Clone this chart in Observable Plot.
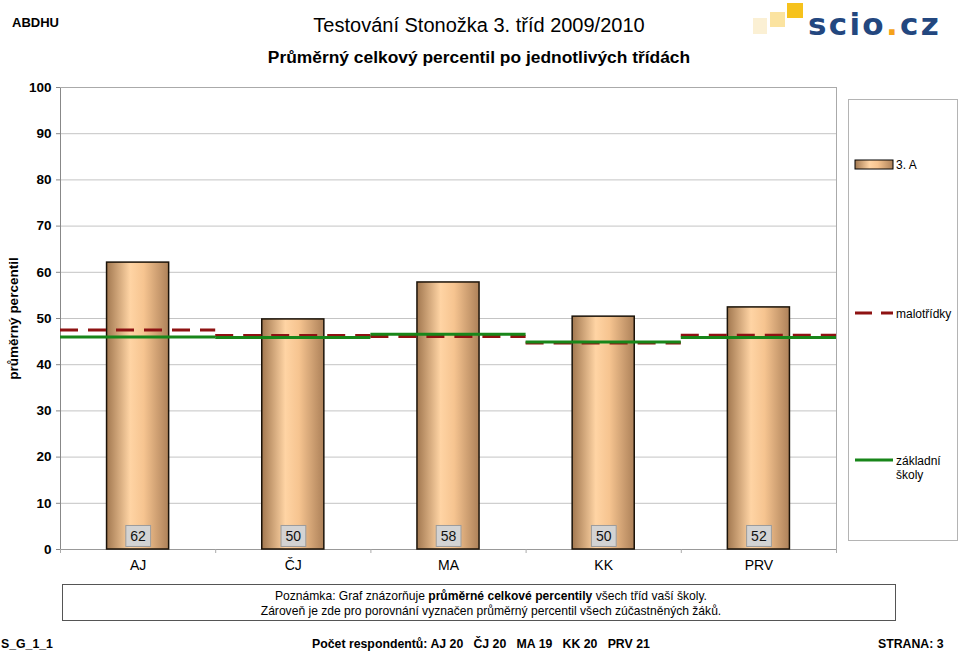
<!DOCTYPE html>
<html><head><meta charset="utf-8">
<script src="https://cdn.jsdelivr.net/npm/d3@7"></script>
<script src="https://cdn.jsdelivr.net/npm/@observablehq/plot@0.6"></script>
<style>
body{margin:0;background:#fff;font-family:"Liberation Sans",Arial,sans-serif;}
#page{position:relative;width:960px;height:651px;overflow:hidden;background:#fff;}
.abs{position:absolute;white-space:nowrap;color:#000;}
#chart{position:absolute;left:0;top:0;}
#chart svg [aria-label="y-axis label"] text{font-weight:bold;}
</style></head><body><div id="page">
<div class="abs" style="left:12px;top:15px;font-size:13px;font-weight:bold;">ABDHU</div>
<div class="abs" style="left:0;width:958px;top:14px;text-align:center;font-size:20px;">Testování Stonožka 3. tříd 2009/2010</div>
<div class="abs" style="left:0;width:958px;top:47px;text-align:center;font-size:17.4px;font-weight:bold;">Průměrný celkový percentil po jednotlivých třídách</div>
<svg class="abs" style="left:750px;top:0;" width="208" height="56">
  <rect x="3" y="18" width="14" height="16" fill="#fbf0d4"/>
  <rect x="20" y="12" width="15" height="15" fill="#fbe3a0"/>
  <rect x="37" y="3" width="16" height="15" fill="#f6c21c"/>
  <text x="58" y="35" font-family="DejaVu Sans, sans-serif" font-weight="bold" font-size="31" fill="#23477f" letter-spacing="2.3">scio<tspan fill="#f5a21b">.</tspan>cz</text>
</svg>
<div id="chart"></div>
<svg id="legend" class="abs" style="left:847px;top:98px;" width="112" height="444">
  <rect x="1.5" y="1.5" width="109" height="441" fill="#fff" stroke="#b4b4b4"/>
</svg>
<div class="abs" style="left:62px;top:584px;width:808px;border:1px solid #555;text-align:center;font-size:12.1px;line-height:14.5px;padding:4px 0 0 24px;height:31px;">
Poznámka: Graf znázorňuje <b>průměrné celkové percentily</b> všech tříd vaší školy.<br>Zároveň je zde pro porovnání vyznačen průměrný percentil všech zúčastněných žáků.</div>
<div class="abs" style="left:1px;top:637px;font-size:12.3px;font-weight:bold;">S_G_1_1</div>
<div id="resp" class="abs" style="left:312px;top:637px;font-size:12.3px;font-weight:bold;"></div>
<div class="abs" style="left:878px;top:637px;font-size:12.3px;font-weight:bold;">STRANA: 3</div>
</div>
<script>
const subjects = ["AJ", "ČJ", "MA", "KK", "PRV"];
const classValues = [62.1, 49.8, 57.8, 50.4, 52.4];
const classLabels = [62, 50, 58, 50, 52];
const smallSchools = [47.5, 46.3, 46.1, 44.7, 46.4];
const primarySchools = [46.0, 45.9, 46.6, 44.9, 45.9];
const respondents = [20, 20, 19, 20, 21];
const yTicks = [0, 10, 20, 30, 40, 50, 60, 70, 80, 90, 100];
const seriesNames = ["3. A", "malotřídky", "základní školy"];

const rows = subjects.map((s, i) => ({i, s, v: classValues[i], lab: classLabels[i], m: smallSchools[i], z: primarySchools[i]}));

const chart = Plot.plot({
  width: 960, height: 580,
  marginTop: 87, marginBottom: 31, marginLeft: 60, marginRight: 124,
  style: {fontFamily: "Liberation Sans, Arial, sans-serif", fontSize: "13px", background: "transparent", color: "#000"},
  x: {domain: [0, subjects.length], axis: null},
  y: {domain: [0, 100], axis: null},
  marks: [
    Plot.gridY(yTicks, {stroke: "#c4c4c4", strokeOpacity: 1}),
    Plot.axisY({ticks: yTicks, tickSize: 4, tickPadding: 5, fontWeight: "bold", fontSize: 13.5, stroke: "#888",
      label: "průměrný percentil", labelAnchor: "center", labelArrow: "none", labelOffset: 52}),
    Plot.ruleX([0], {stroke: "#888"}),
    Plot.ruleX([subjects.length], {stroke: "#aaa"}),
    Plot.ruleY([100], {stroke: "#aaa"}),
    Plot.ruleY([0], {stroke: "#999"}),
    Plot.axisX({ticks: d3.range(subjects.length + 1), tickSize: 4, tickFormat: () => "", stroke: "#aaa", label: null}),
    Plot.axisX({ticks: rows.map(d => d.i + 0.5), tickSize: 0, tickPadding: 11, fontSize: 14, label: null,
      tickFormat: t => subjects[Math.floor(t)]}),
    Plot.rectY(rows, {x1: d => d.i + 0.3, x2: d => d.i + 0.7, y: "v", fill: "url(#barGrad)", stroke: "#1a1208", strokeWidth: 1.5}),
    Plot.ruleY(rows, {x1: "i", x2: d => d.i + 1, y: "m", stroke: "#8e1212", strokeWidth: 3, strokeDasharray: "18,10"}),
    Plot.ruleY(rows, {x1: "i", x2: d => d.i + 1, y: "z", stroke: "#18861a", strokeWidth: 3}),
    Plot.text(rows, {x: d => d.i + 0.5, y: 0, dy: -13, text: "lab", fontSize: 14, fill: "#111"})
  ]
});
const gradDef = `<linearGradient id="barGrad" x1="0" x2="1" y1="0" y2="0">
  <stop offset="0" stop-color="#a27850"/><stop offset="0.38" stop-color="#ffd4a4"/>
  <stop offset="0.6" stop-color="#f6c490"/><stop offset="1" stop-color="#ad8159"/></linearGradient>`;
d3.select(chart).insert("defs", ":first-child").html(gradDef);
document.getElementById("chart").appendChild(chart);

d3.select(chart).selectAll('g[aria-label="text"] text').each(function() {
  const b = this.getBBox();
  d3.select(this.parentNode).insert("rect", () => this)
    .attr("transform", this.getAttribute("transform"))
    .attr("x", b.x - 4.5).attr("y", b.y - 2.5).attr("width", b.width + 9).attr("height", b.height + 5)
    .attr("fill", "#d3d3d3").attr("stroke", "#9c9c9c");
});

// legend
const lg = d3.select("#legend");
lg.append("defs").html(gradDef.replace('id="barGrad"', 'id="barGradL"'));
lg.append("rect").attr("x", 8).attr("y", 62).attr("width", 38).attr("height", 9).attr("fill", "url(#barGradL)").attr("stroke", "#000").attr("stroke-width", 1);
lg.append("text").attr("x", 49).attr("y", 71).attr("font-size", 12).text(seriesNames[0]);
lg.append("line").attr("x1", 8).attr("x2", 46).attr("y1", 215).attr("y2", 215).attr("stroke", "#8e1212").attr("stroke-width", 3).attr("stroke-dasharray", "17,9");
lg.append("text").attr("x", 49).attr("y", 219.5).attr("font-size", 12).text(seriesNames[1]);
lg.append("line").attr("x1", 8).attr("x2", 46).attr("y1", 362).attr("y2", 362).attr("stroke", "#18861a").attr("stroke-width", 3);
const zt = lg.append("text").attr("font-size", 12);
zt.append("tspan").attr("x", 49).attr("y", 367).text("základní");
zt.append("tspan").attr("x", 49).attr("y", 381).text("školy");
lg.selectAll("text").attr("font-family", "Liberation Sans, Arial, sans-serif");

document.getElementById("resp").innerHTML = "Počet respondentů: " +
  subjects.map((s, i) => s + " " + respondents[i]).join("&nbsp;&nbsp; ");
</script></body></html>
